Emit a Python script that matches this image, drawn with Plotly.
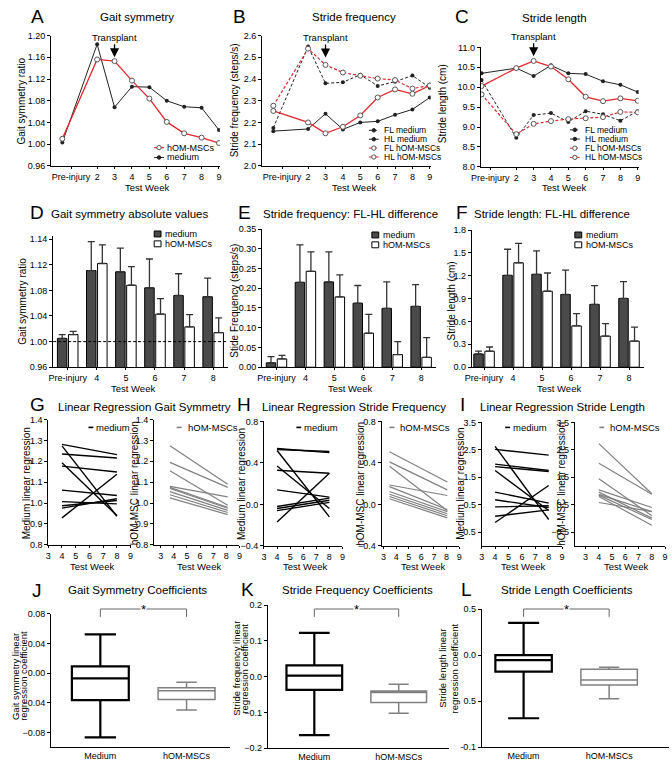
import plotly.graph_objects as go

W, H = 672, 766
FONT = "Liberation Sans, Arial, Helvetica, sans-serif"
RED = "#e3262c"
BLK = "#222222"
GRY = "#808080"
DKBAR = "#4a4a4a"

# ---------------- data ----------------
week_x = [0, 2, 3, 4, 5, 6, 7, 8, 9]
week_tickvals = [0.5, 2, 3, 4, 5, 6, 7, 8, 9]
week_ticktext = ["Pre-injury", "2", "3", "4", "5", "6", "7", "8", "9"]

A_hom = [1.010, 1.156, 1.153, 1.117, 1.084, 1.041, 1.020, 1.012, 1.002]
A_med = [1.003, 1.184, 1.068, 1.106, 1.105, 1.080, 1.069, 1.067, 1.026]

B_fl_med = [2.175, 2.550, 2.380, 2.385, 2.420, 2.368, 2.388, 2.416, 2.360]
B_hl_med = [2.160, 2.170, 2.240, 2.168, 2.200, 2.205, 2.235, 2.260, 2.315]
B_fl_hom = [2.277, 2.540, 2.465, 2.430, 2.415, 2.402, 2.395, 2.356, 2.370]
B_hl_hom = [2.253, 2.200, 2.150, 2.180, 2.232, 2.315, 2.352, 2.332, 2.370]

C_fl_med = [10.18, 8.73, 9.30, 9.35, 9.13, 9.40, 9.32, 9.16, 9.40]
C_hl_med = [10.35, 10.48, 10.28, 10.55, 10.35, 10.33, 10.15, 10.06, 9.88]
C_fl_hom = [9.82, 8.82, 9.08, 9.15, 9.20, 9.22, 9.25, 9.38, 9.37]
C_hl_hom = [10.03, 10.48, 10.66, 10.52, 10.20, 9.76, 9.65, 9.72, 9.66]

bar_cats = ["Pre-injury", "4", "5", "6", "7", "8"]
D_med_mean = [1.005, 1.111, 1.109, 1.084, 1.072, 1.070]
D_med_sem = [0.006, 0.045, 0.037, 0.045, 0.034, 0.029]
D_hom_mean = [1.011, 1.122, 1.088, 1.043, 1.023, 1.014]
D_hom_sem = [0.005, 0.029, 0.029, 0.024, 0.019, 0.023]
D_tickvals = [0.96, 1.00, 1.04, 1.08, 1.12, 1.16]
D_ticktext = ["0.96", "1.00", "1.04", "1.08", "1.12", "1.14"]

E_med_mean = [0.011, 0.215, 0.216, 0.162, 0.149, 0.154]
E_med_sem = [0.016, 0.095, 0.076, 0.045, 0.067, 0.055]
E_hom_mean = [0.021, 0.243, 0.178, 0.086, 0.032, 0.025]
E_hom_sem = [0.009, 0.049, 0.056, 0.048, 0.033, 0.050]

F_med_mean = [0.173, 1.205, 1.219, 0.954, 0.824, 0.902]
F_med_sem = [0.037, 0.343, 0.307, 0.321, 0.247, 0.221]
F_hom_mean = [0.210, 1.370, 0.997, 0.542, 0.408, 0.343]
F_hom_sem = [0.055, 0.256, 0.239, 0.160, 0.164, 0.182]

G_med_x = [4, 8]
G_med_start = [1.281, 1.235, 1.274, 1.193, 1.177, 1.062, 1.007, 0.987, 0.976, 0.929]
G_med_end = [1.232, 1.216, 0.937, 0.940, 1.149, 1.036, 0.996, 1.012, 1.021, 1.138]
G_hom_x = [3.7, 8.1]
G_hom_start = [1.275, 1.195, 1.155, 1.080, 1.075, 1.070, 1.055, 1.040, 1.025]
G_hom_end = [1.090, 1.075, 0.990, 1.030, 0.980, 0.975, 0.965, 0.955, 0.945]

H_med_x = [4, 8]
H_med_start = [0.540, 0.530, 0.520, 0.370, 0.330, 0.140, -0.020, -0.040, -0.060, -0.170]
H_med_end = [0.500, 0.510, -0.120, -0.040, 0.300, 0.070, 0.060, 0.040, 0.020, 0.300]
H_hom_x = [3.47, 8.06]
H_hom_start = [0.508, 0.410, 0.368, 0.187, 0.171, 0.124, 0.098, 0.076, 0.054]
H_hom_end = [0.216, 0.140, -0.060, 0.086, -0.050, -0.070, -0.090, -0.110, -0.130]

I_med_x = [4, 8]
I_med_start = [2.52, 2.63, 1.98, 1.89, 1.75, 0.96, 0.68, 0.42, 0.08, -0.15]
I_med_end = [2.31, -0.04, 1.75, 1.71, 0.29, 0.56, 0.40, 0.46, 0.31, 1.20]
I_hom_x = [4, 8]
I_hom_start = [2.73, 2.01, 1.45, 1.04, 0.96, 0.88, 0.85, 0.80, 0.58]
I_hom_end = [0.90, 0.88, 0.10, 0.40, 0.01, 0.25, -0.04, -0.25, 0.25]

box_cats = ["Medium", "hOM-MSCs"]
# [lowerfence, q1, median, q3, upperfence]
J_med = [-0.0867, -0.0364, -0.0071, 0.0093, 0.0524]
J_hom = [-0.0498, -0.0356, -0.0236, -0.0196, -0.0124]
K_med = [-0.1635, -0.0370, 0.0030, 0.0315, 0.1220]
K_hom = [-0.1025, -0.0725, -0.0445, -0.0400, -0.0216]
L_med = [-0.686, -0.179, -0.054, 0.000, 0.350]
L_hom = [-0.475, -0.325, -0.271, -0.154, -0.132]
L_tickvals = [-1.0, -0.5, 0.0, 0.5]
L_ticktext = ["-0.1", "0.5", "0.0", "0.5"]

# ---------------- helpers ----------------
fig = go.Figure()
axes = {}
annotations = []
shapes = []


def xr_(n):
    return "x" if n == 1 else f"x{n}"


def yr_(n):
    return "y" if n == 1 else f"y{n}"


BASE = dict(showline=True, linecolor="black", linewidth=1, ticks="outside", ticklen=3,
            tickwidth=1, tickcolor="black", showgrid=False, zeroline=False,
            tickfont=dict(size=9, color="black", family=FONT), fixedrange=True)


def make_axes(n, x0, x1, ytop, ybot, xrange_, yrange_, xextra=None, yextra=None):
    xd = dict(BASE)
    xd.update(domain=[x0 / W, x1 / W], range=xrange_, anchor=yr_(n), ticklen=2)
    yd = dict(BASE)
    yd.update(domain=[1 - ybot / H, 1 - ytop / H], range=yrange_, anchor=xr_(n))
    if xextra:
        xd.update(xextra)
    if yextra:
        yd.update(yextra)
    axes["xaxis" if n == 1 else f"xaxis{n}"] = xd
    axes["yaxis" if n == 1 else f"yaxis{n}"] = yd


def txt(x, y, s, size=9.5, xa="center", ya="middle", angle=0, color="black"):
    annotations.append(dict(x=x / W, y=1 - y / H, xref="paper", yref="paper", text=s,
                            showarrow=False, xanchor=xa, yanchor=ya, textangle=angle,
                            font=dict(size=size, color=color, family=FONT)))


def pline(x0, x1, y, color, dash="solid", width=1.0):
    shapes.append(dict(type="line", xref="paper", yref="paper", x0=x0 / W, x1=x1 / W,
                       y0=1 - y / H, y1=1 - y / H, line=dict(color=color, width=width, dash=dash)))


def pdot(cx, cy, r, fill, edge):
    shapes.append(dict(type="circle", xref="paper", yref="paper", x0=(cx - r) / W, x1=(cx + r) / W,
                       y0=1 - (cy + r) / H, y1=1 - (cy - r) / H, fillcolor=fill,
                       line=dict(color=edge, width=1)))


def pbox(x0, x1, y0, y1, fill):
    shapes.append(dict(type="rect", xref="paper", yref="paper", x0=x0 / W, x1=x1 / W,
                       y0=1 - y1 / H, y1=1 - y0 / H, fillcolor=fill,
                       line=dict(color="black", width=1)))


LET = 19
TS = 11.5

med_marker = dict(size=4, color=BLK)
hom_marker = dict(size=5, color="white", line=dict(color="#555555", width=1))

# ---------------- A ----------------
wk = dict(tickvals=week_tickvals, ticktext=week_ticktext)
make_axes(1, 42, 214, 31, 163, [-0.64, 9.05], [0.96, 1.20], wk,
          dict(tickvals=[0.96, 1.00, 1.04, 1.08, 1.12, 1.16, 1.20], tickformat=".2f"))
fig.add_trace(go.Scatter(x=week_x, y=A_med, mode="lines+markers", line=dict(color=BLK, width=1),
                         marker=med_marker, xaxis="x", yaxis="y"))
fig.add_trace(go.Scatter(x=week_x, y=A_hom, mode="lines+markers", line=dict(color=RED, width=1.3),
                         marker=hom_marker, xaxis="x", yaxis="y"))

# ---------------- B ----------------
make_axes(2, 257, 429, 31, 163, [-0.65, 9.05], [2.0, 2.6], wk,
          dict(tickvals=[2.0, 2.1, 2.2, 2.3, 2.4, 2.5, 2.6], tickformat=".1f"))
for ys, col, dash, mk, w in [(B_fl_med, BLK, "3px,2px", med_marker, 1), (B_hl_med, BLK, "solid", med_marker, 1),
                             (B_fl_hom, RED, "3px,2px", hom_marker, 1.2), (B_hl_hom, RED, "solid", hom_marker, 1.3)]:
    fig.add_trace(go.Scatter(x=week_x, y=ys, mode="lines+markers", line=dict(color=col, width=w, dash=dash),
                             marker=mk, xaxis="x2", yaxis="y2"))

# ---------------- C ----------------
make_axes(3, 480, 641, 43, 164, [-0.05, 9.05], [8.0, 11.0], wk,
          dict(tickvals=[8.0, 8.5, 9.0, 9.5, 10.0, 10.5, 11.0], tickformat=".1f"))
for ys, col, dash, mk, w in [(C_fl_med, BLK, "3px,2px", med_marker, 1), (C_hl_med, BLK, "solid", med_marker, 1),
                             (C_fl_hom, RED, "3px,2px", hom_marker, 1.2), (C_hl_hom, RED, "solid", hom_marker, 1.3)]:
    fig.add_trace(go.Scatter(x=week_x, y=ys, mode="lines+markers", line=dict(color=col, width=w, dash=dash),
                             marker=mk, xaxis="x3", yaxis="y3"))

for n, ytip in [(1, 1.16), (2, 2.499), (3, 10.776)]:
    annotations.append(dict(x=3, y=ytip, xref=xr_(n), yref=yr_(n), text="Transplant", showarrow=True,
                            ax=0, ay=-20, arrowhead=2, arrowsize=1.4, arrowwidth=1.3, arrowcolor="black",
                            font=dict(size=9.5, family=FONT, color="black")))

# ---------------- D, E, F (bars) ----------------
cat = dict(type="category", categoryorder="array", categoryarray=bar_cats)
make_axes(4, 44, 222, 234, 367, [-0.5, 5.5], [0.96, 1.165], cat,
          dict(tickvals=D_tickvals, ticktext=D_ticktext))
make_axes(5, 257, 434, 227, 367, [-0.5, 5.5], [0.0, 0.35], cat,
          dict(tickvals=[0, 0.05, 0.10, 0.15, 0.20, 0.25, 0.30, 0.35], tickformat=".2f"))
make_axes(6, 471, 646, 228, 367, [-0.42, 5.5], [0.0, 1.8], cat,
          dict(tickvals=[0, 0.3, 0.6, 0.9, 1.2, 1.5, 1.8], tickformat=".1f"))

for n, mm, ms, hm, hs in [(4, D_med_mean, D_med_sem, D_hom_mean, D_hom_sem),
                          (5, E_med_mean, E_med_sem, E_hom_mean, E_hom_sem),
                          (6, F_med_mean, F_med_sem, F_hom_mean, F_hom_sem)]:
    fig.add_trace(go.Bar(x=bar_cats, y=mm, marker=dict(color=DKBAR, line=dict(color="black", width=1)),
                         error_y=dict(type="data", symmetric=False, array=ms, arrayminus=[0] * 6,
                                      color="#333333", thickness=1.3, width=3.5),
                         xaxis=xr_(n), yaxis=yr_(n), offsetgroup="m"))
    fig.add_trace(go.Bar(x=bar_cats, y=hm, marker=dict(color="white", line=dict(color="black", width=1)),
                         error_y=dict(type="data", symmetric=False, array=hs, arrayminus=[0] * 6,
                                      color="#333333", thickness=1.3, width=3.5),
                         xaxis=xr_(n), yaxis=yr_(n), offsetgroup="h"))

shapes.append(dict(type="line", xref="x4 domain", yref="y4", x0=0, x1=1, y0=1.0, y1=1.0,
                   line=dict(color="black", width=1, dash="3px,2px")))

# ---------------- G, H, I (regression lines) ----------------
xt = dict(tickvals=[3, 4, 5, 6, 7, 8, 9])
g_y = dict(tickvals=[0.8, 0.9, 1.0, 1.1, 1.2, 1.3, 1.4], tickformat=".1f")
h_y = dict(tickvals=[-0.4, 0.0, 0.4, 0.8], tickformat=".1f")
i_y = dict(tickvals=[-0.5, 0.5, 1.5, 2.5, 3.5], tickformat=".1f")
make_axes(7, 39, 123, 420, 547, [3, 9], [0.8, 1.4], xt, g_y)
make_axes(8, 147, 234, 420, 547, [2.5, 9], [0.8, 1.4], xt, g_y)
make_axes(9, 259, 339, 422, 548, [3, 9], [-0.4, 0.8], xt, h_y)
make_axes(10, 379, 458, 422, 548, [2.85, 9], [-0.4, 0.8], xt, h_y)
make_axes(11, 481, 563, 423, 548, [3, 9], [-1.0, 3.5], xt, i_y)
make_axes(12, 576, 668, 423, 548, [2.19, 9], [-1.0, 3.5], xt, i_y)

for n, xs, st, en, col, w in [(7, G_med_x, G_med_start, G_med_end, "black", 1.4),
                              (8, G_hom_x, G_hom_start, G_hom_end, GRY, 1.2),
                              (9, H_med_x, H_med_start, H_med_end, "black", 1.4),
                              (10, H_hom_x, H_hom_start, H_hom_end, GRY, 1.2),
                              (11, I_med_x, I_med_start, I_med_end, "black", 1.4),
                              (12, I_hom_x, I_hom_start, I_hom_end, GRY, 1.2)]:
    for s, e in zip(st, en):
        fig.add_trace(go.Scatter(x=xs, y=[s, e], mode="lines", line=dict(color=col, width=w),
                                 xaxis=xr_(n), yaxis=yr_(n)))

# ---------------- J, K, L (box plots) ----------------
bx = dict(type="category", categoryorder="array", categoryarray=box_cats, ticks="")
make_axes(13, 42, 224, 617, 752, [-0.57, 1.5], [-0.10, 0.08], bx,
          dict(tickvals=[-0.08, -0.04, 0.0, 0.04, 0.08], tickformat=".2f"))
make_axes(14, 263, 448, 608, 753, [-0.55, 1.6], [-0.2, 0.2], bx,
          dict(tickvals=[-0.2, -0.1, 0.0, 0.1, 0.2], tickformat=".1f"))
make_axes(15, 481, 672, 612, 752, [-0.49, 1.7], [-1.0, 0.5], bx,
          dict(tickvals=L_tickvals, ticktext=L_ticktext))

for n, med, hom in [(13, J_med, J_hom), (14, K_med, K_hom), (15, L_med, L_hom)]:
    fig.add_trace(go.Box(x=[box_cats[0]], lowerfence=[med[0]], q1=[med[1]], median=[med[2]], q3=[med[3]],
                         upperfence=[med[4]], width=0.66, whiskerwidth=0.55, fillcolor="white",
                         line=dict(color="black", width=2.2), boxpoints=False,
                         xaxis=xr_(n), yaxis=yr_(n)))
    fig.add_trace(go.Box(x=[box_cats[1]], lowerfence=[hom[0]], q1=[hom[1]], median=[hom[2]], q3=[hom[3]],
                         upperfence=[hom[4]], width=0.66, whiskerwidth=0.36, fillcolor="white",
                         line=dict(color=GRY, width=1.5), boxpoints=False,
                         xaxis=xr_(n), yaxis=yr_(n)))
    shapes.append(dict(type="path", xref=xr_(n), yref="paper",
                       path=f"M 0,{1 - 620 / H} L 0,{1 - 612 / H} L 1,{1 - 612 / H} L 1,{1 - 620 / H}",
                       line=dict(color="#666666", width=1)))
    annotations.append(dict(x=0.5, y=1 - 613 / H, xref=xr_(n), yref="paper", text="*", showarrow=False,
                            bgcolor="white", font=dict(size=13, family=FONT, color="black"),
                            xanchor="center", yanchor="middle", borderpad=0))

# ---------------- titles and labels ----------------
txt(28, 12, "A", LET); txt(130, 12, "Gait symmetry", TS)
txt(234, 12, "B", LET); txt(351, 12, "Stride frequency", TS)
txt(461, 12, "C", LET); txt(555, 13, "Stride length", TS)
txt(12, 97, "Gait symmetry ratio", 10, angle=-90)
txt(229, 97, "Stride frequency (steps/s)", 10, angle=-90)
txt(441, 100, "Stride length (cm)", 10, angle=-90)
txt(140, 185, "Test Week", 9.5); txt(351, 185, "Test Week", 9.5); txt(565, 185, "Test Week", 9.5)

txt(28, 210, "D", LET); txt(122, 212, "Gait symmetry absolute values", TS)
txt(239, 210, "E", LET); txt(347, 212, "Stride frequency: FL-HL difference", TS)
txt(461, 210, "F", LET); txt(553, 212, "Stride length: FL-HL difference", TS)
txt(12, 300, "Gait symmetry ratio", 10, angle=-90)
txt(228, 300, "Stide Frequency (steps/s)", 10, angle=-90)
txt(450, 300, "Stride length (cm)", 10, angle=-90)
txt(125, 389, "Test Week", 9.5); txt(347, 389, "Test Week", 9.5); txt(560, 389, "Test Week", 9.5)

txt(28, 405, "G", LET); txt(137, 407, "Linear Regression Gait Symmetry", TS)
txt(239, 405, "H", LET); txt(351, 407, "Linear Regression Stride Frequency", TS)
txt(461, 405, "I", LET); txt(563, 407, "Linear Regression Stride Length", TS)
txt(17, 485, "Medium linear regression", 10, angle=-90)
txt(127, 485, "hOM-MSC linear regression", 10, angle=-90)
txt(236, 485, "Medium linear regression", 10, angle=-90)
txt(358, 485, "hOM-MSC linear regression", 10, angle=-90)
txt(460, 485, "Medium linear regression", 10, angle=-90)
txt(563, 485, "hOM-MSC linear regression", 10, angle=-90)
for xx in [84, 193, 301, 421, 523, 628]:
    txt(xx, 569, "Test Week", 9.5)
for x0, label, col in [(80, "medium", "black"), (170, "hOM-MSCs", GRY), (292, "medium", "black"),
                       (387, "hOM-MSCs", GRY), (505, "medium", "black"), (601, "hOM-MSCs", GRY)]:
    pline(x0, x0 + 5, 428, col, width=1.6)
    txt(x0 + (6 if col == "black" else 9), 428, label, 9.5, xa="left")

txt(28, 593, "J", LET); txt(130, 593, "Gait Symmetry Coefficients", TS)
txt(242, 592, "K", LET); txt(354, 593, "Stride Frequency Coefficients", TS)
txt(465, 592, "L", LET); txt(568, 593, "Stride Length Coefficients", TS)
txt(5, 680, "Gait symmetry linear", 9.5, angle=-90)
txt(13, 680, "regression coefficient", 9.5, angle=-90)
txt(231, 672, "Stride frequency linear", 9.5, angle=-90)
txt(239, 672, "regression coefficient", 9.5, angle=-90)
txt(441, 672, "Stride length linear", 9.5, angle=-90)
txt(453, 672, "regression coefficient", 9.5, angle=-90)

# ---------------- legend keys ----------------
pline(147, 157, 144.5, RED, width=1.3); pdot(152, 144.5, 2.2, "white", "#555555"); txt(158, 144.5, "hOM-MSCs", 9, xa="left")
pline(147, 157, 154.5, BLK); pdot(152, 154.5, 1.8, BLK, BLK); txt(158, 154.5, "medium", 9, xa="left")
for i, (lab, col, dash, fill) in enumerate([("FL medium", BLK, "3px,2px", BLK), ("HL medium", BLK, "solid", BLK),
                                            ("FL hOM-MSCs", RED, "3px,2px", "white"), ("HL hOM-MSCs", RED, "solid", "white")]):
    yy = 127 + 9 * i
    pline(366, 376, yy, col, dash=dash)
    pdot(371, yy, 1.8 if fill != "white" else 2.2, fill, BLK if fill != "white" else "#555555")
    txt(379, yy, lab, 8.5, xa="left")
for i, (lab, col, dash, fill) in enumerate([("FL medium", BLK, "3px,2px", BLK), ("HL medium", BLK, "solid", BLK),
                                            ("FL hOM-MSCs", RED, "3px,2px", "white"), ("HL hOM-MSCs", RED, "solid", "white")]):
    yy = 126.5 + 9.3 * i
    pline(571, 581, yy, col, dash=dash)
    pdot(576, yy, 1.8 if fill != "white" else 2.2, fill, BLK if fill != "white" else "#555555")
    txt(584, yy, lab, 8.5, xa="left")
for bx0, ty in [(147, 232), (369, 233), (576, 233)]:
    pbox(bx0, bx0 + 7, ty - 3, ty + 3, DKBAR)
    txt(bx0 + 9, ty, "medium", 9, xa="left")
    pbox(bx0, bx0 + 7, ty + 7, ty + 13, "white")
    txt(bx0 + 9, ty + 10, "hOM-MSCs", 9, xa="left")

layout = dict(width=W, height=H, margin=dict(l=0, r=0, t=0, b=0), paper_bgcolor="white",
              plot_bgcolor="white", showlegend=False, barmode="group", bargap=0.24, bargroupgap=0.14,
              font=dict(family=FONT, color="black"), annotations=annotations, shapes=shapes)
layout.update(axes)
fig.update_layout(**layout)
fig.write_html("out.html", config={"displayModeBar": False},
               post_script="document.body.style.margin='0px';document.body.style.overflow='hidden';")
